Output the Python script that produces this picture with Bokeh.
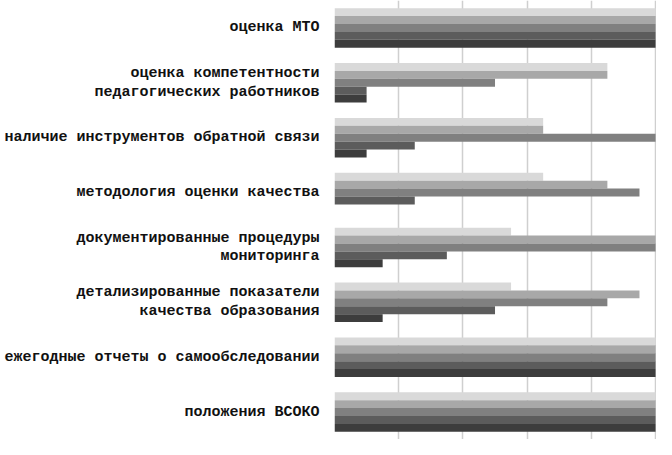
from bokeh.plotting import figure
from bokeh.models import ColumnDataSource, FactorRange, Range1d, FixedTicker
from bokeh.transform import dodge
from bokeh.embed import file_html
from bokeh.resources import INLINE

categories = [
    "оценка МТО",
    "оценка компетентности\nпедагогических работников",
    "наличие инструментов обратной связи",
    "методология оценки качества",
    "документированные процедуры\nмониторинга",
    "детализированные показатели\nкачества образования",
    "ежегодные отчеты о самообследовании",
    "положения ВСОКО",
]
s1 = [100, 85, 65, 65, 55, 55, 100, 100]
s2 = [100, 85, 65, 85, 100, 95, 100, 100]
s3 = [100, 50, 100, 95, 100, 85, 100, 100]
s4 = [100, 10, 25, 25, 35, 50, 100, 100]
s5 = [100, 10, 10, 0, 15, 15, 100, 100]
colors = ["#d9d9d9", "#a8a8a8", "#808080", "#5c5c5c", "#3d3d3d"]
x_ticks = [0, 20, 40, 60, 80, 100]

factors = list(reversed(categories))
src = ColumnDataSource(dict(cat=categories, s1=s1, s2=s2, s3=s3, s4=s4, s5=s5))

p = figure(width=656, height=439, output_backend="svg", toolbar_location=None,
           y_range=FactorRange(factors=factors, range_padding=0),
           x_range=Range1d(0, 100.3),
           min_border_left=334, min_border_right=0, min_border_top=0,
           min_border_bottom=0)

bh = 0.144
offsets = [2 * bh, bh, 0, -bh, -2 * bh]
for i, (off, col) in enumerate(zip(offsets, colors)):
    p.hbar(y=dodge("cat", off, range=p.y_range), right="s%d" % (i + 1), left=0,
           height=bh, source=src, fill_color=col, line_color=None)

p.xaxis.visible = False
p.xaxis.ticker = FixedTicker(ticks=x_ticks)
p.xgrid.ticker = FixedTicker(ticks=x_ticks)
p.xgrid.grid_line_color = "#cfcfcf"
p.xgrid.grid_line_width = 1.5
p.ygrid.grid_line_color = None
p.outline_line_color = None
p.yaxis.axis_line_color = None
p.yaxis.major_tick_line_color = None
p.yaxis.minor_tick_line_color = None
p.yaxis.major_label_text_font = "Liberation Mono"
p.yaxis.major_label_text_font_style = "bold"
p.yaxis.major_label_text_font_size = "15px"
p.yaxis.major_label_text_color = "#111111"
p.yaxis.major_label_text_line_height = 1.1
p.yaxis.major_label_standoff = 9

open("out.html", "w").write(file_html(p, INLINE))
